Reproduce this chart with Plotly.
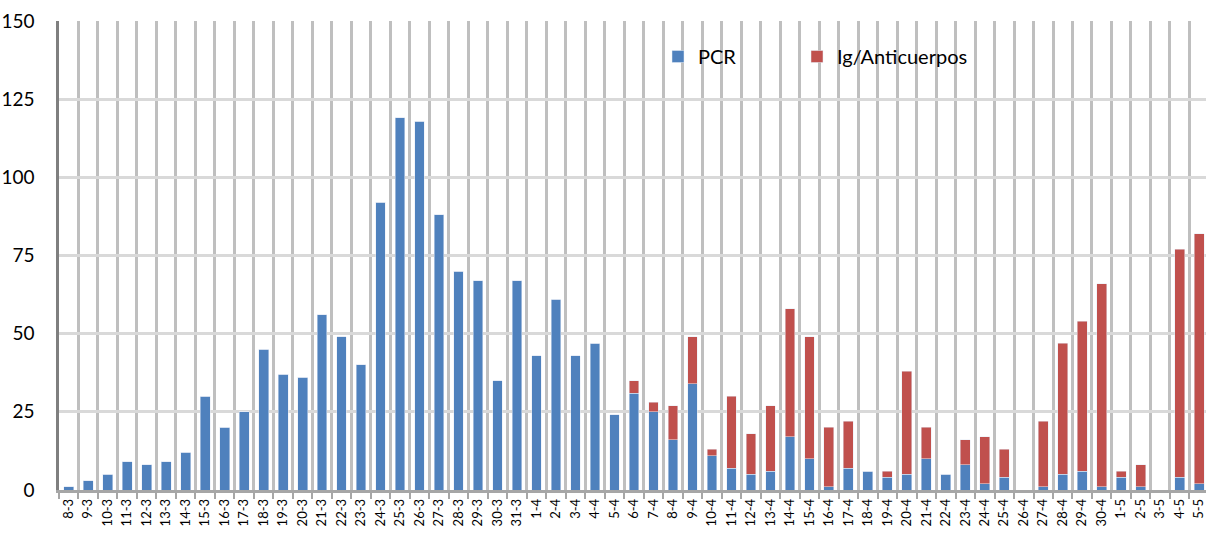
import plotly.graph_objects as go

dates = (["%d-3" % d for d in range(8, 32)] +
         ["%d-4" % d for d in range(1, 31)] +
         ["%d-5" % d for d in range(1, 6)])

pcr = [1, 3, 5, 9, 8, 9, 12, 30, 20, 25, 45, 37, 36, 56, 49, 40, 92, 119, 118, 88,
       70, 67, 35, 67,
       43, 61, 43, 47, 24, 31, 25, 16, 34, 11, 7, 5, 6, 17, 10, 1, 7, 6, 4, 5, 10,
       5, 8, 2, 4, 0, 1, 5, 6, 1,
       4, 1, 0, 4, 2]

ig = [0] * 29 + [4, 3, 11, 15, 2, 23, 13, 21, 41, 39, 19, 15, 0, 2, 33, 10,
                 0, 8, 15, 9, 0, 21, 42, 48, 65,
                 2, 7, 0, 73, 80]

yticks = [0, 25, 50, 75, 100, 125, 150]

FONT = "Lato"

W, H = 1206, 533
L, T, B, R = 59, 21, 43, 0
PW, PH = W - L - R, H - T - B

fig = go.Figure()
fig.add_trace(go.Bar(x=dates, y=pcr, name="PCR", marker_color="#4F81BD",
                     legend="legend"))
fig.add_trace(go.Bar(x=dates, y=ig, name="Ig/Anticuerpos", marker_color="#C0504D",
                     legend="legend2"))

leg_common = dict(orientation="h", xanchor="left", yanchor="middle",
                  y=(490 - 56.5) / PH, bgcolor="rgba(0,0,0,0)",
                  font=dict(size=20, family=FONT, color="black"))

fig.update_layout(
    width=W, height=H,
    barmode="stack", bargap=0.5,
    paper_bgcolor="white", plot_bgcolor="white",
    margin=dict(l=L, r=R, t=T, b=B, autoexpand=False),
    font=dict(family=FONT, color="black"),
    showlegend=True,
    legend=dict(x=(658 - L) / PW, **leg_common),
    legend2=dict(x=(797 - L) / PW, **leg_common),
    shapes=[dict(type="rect", xref="paper", yref="paper",
                 x0=(570 - L) / PW, x1=(1052 - L) / PW,
                 y0=(490 - 80) / PH, y1=(490 - 33) / PH,
                 fillcolor="white", line=dict(width=0), layer="between")],
)

fig.update_xaxes(
    type="category", categoryorder="array", categoryarray=dates,
    range=[-0.5, 58.35], tickson="boundaries",
    showgrid=True, gridcolor="#BFBFBF", gridwidth=2.5,
    showline=True, linecolor="#A6A6A6", linewidth=2.5,
    ticks="outside", ticklen=6, tickwidth=2, tickcolor="#A6A6A6",
    tickangle=-90, ticklabelstandoff=1,
    tickfont=dict(size=13, family=FONT, color="black"),
    automargin=False, fixedrange=True,
)
fig.update_yaxes(
    range=[0, 150], tickvals=yticks, ticktext=[str(v) for v in yticks],
    showgrid=True, gridcolor="#D9D9D9", gridwidth=2.5,
    showline=True, linecolor="#7F7F7F", linewidth=2.5,
    ticks="", ticklabelstandoff=18,
    tickfont=dict(size=19, family=FONT, color="black"),
    zeroline=False, automargin=False, fixedrange=True,
)

fig.write_html(
    "out.html",
    config={"displayModeBar": False},
    post_script="document.body.style.margin='0';document.body.style.overflow='hidden';",
)
